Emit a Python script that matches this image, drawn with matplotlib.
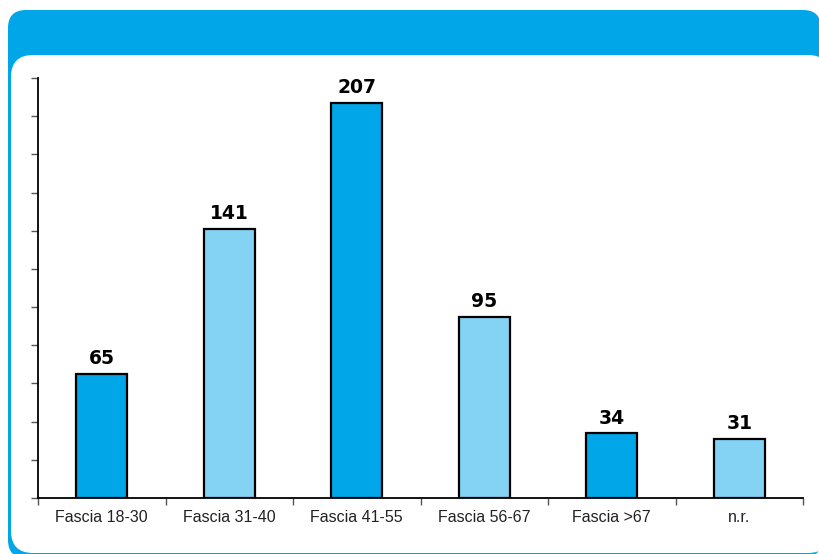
import matplotlib
matplotlib.use("Agg")
import matplotlib.pyplot as plt
from matplotlib.patches import FancyBboxPatch

categories = ["Fascia 18-30", "Fascia 31-40", "Fascia 41-55", "Fascia 56-67", "Fascia >67", "n.r."]
values = [65, 141, 207, 95, 34, 31]
bar_colors = ["#00A6E8", "#84D3F5", "#00A6E8", "#84D3F5", "#00A6E8", "#84D3F5"]
frame_color = "#00A6E8"

W, H = 820, 554
fig = plt.figure(figsize=(W / 100, H / 100), dpi=100)

def px_box(x0, y0, x1, y1, r, color):
    # pixel coordinates, y from top
    b = FancyBboxPatch((x0 / W, 1 - y1 / H), (x1 - x0) / W, (y1 - y0) / H,
                       boxstyle=f"round,pad=0,rounding_size={r / W}",
                       transform=fig.transFigure, facecolor=color, edgecolor="none",
                       mutation_aspect=W / H, zorder=-5)
    fig.patches.append(b)

px_box(8, 10, 821, 558, 18, frame_color)
px_box(11, 55, 830, 553, 22, "white")

ax = fig.add_axes([38 / W, 1 - 498 / H, (803 - 38) / W, (498 - 78) / H])
ax.set_zorder(2)
x = list(range(len(categories)))
bars = ax.bar(x, values, width=0.4, color=bar_colors, edgecolor="black", linewidth=1.6, zorder=3)
ax.set_xlim(-0.5, len(categories) - 0.5)
ax.set_ylim(0, 220)
ax.set_yticks(range(0, 221, 20))
ax.set_yticklabels([])
ax.set_xticks([i - 0.5 for i in range(len(categories) + 1)], minor=False)
ax.set_xticklabels([])
ax.set_xticks(x, minor=True)
ax.set_xticklabels(categories, minor=True, fontsize=11.5, color="#222222", family="Liberation Sans")
ax.tick_params(axis="x", which="minor", length=0, pad=9)
ax.tick_params(axis="x", which="major", length=5, width=1, color="#555555", direction="out")
ax.tick_params(axis="y", length=5, width=1, color="#555555", direction="out")
for s in ["top", "right"]:
    ax.spines[s].set_visible(False)
ax.spines["left"].set_linewidth(1.3)
ax.spines["bottom"].set_linewidth(1.3)
ax.patch.set_alpha(0)

for xi, v in zip(x, values):
    ax.annotate(str(v), (xi, v), xytext=(0, 4), textcoords="offset points",
                ha="center", va="bottom", fontsize=13.5, fontweight="heavy",
                family="DejaVu Sans", color="black")

fig.savefig("out.png", dpi=100)
